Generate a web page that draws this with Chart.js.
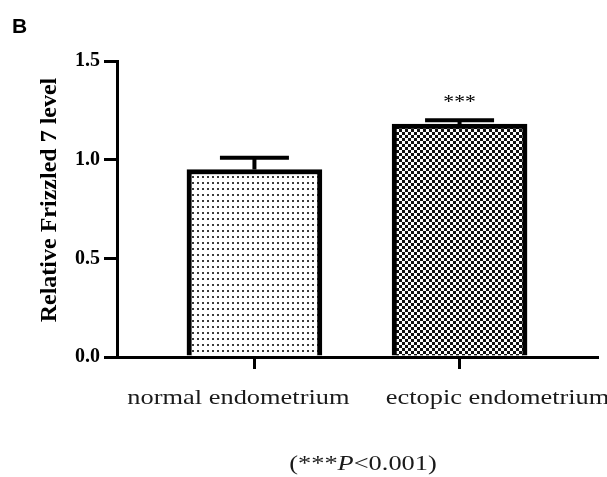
<!DOCTYPE html>
<html>
<head>
<meta charset="utf-8">
<script src="https://cdn.jsdelivr.net/npm/chart.js@4.4.1/dist/chart.umd.min.js"></script>
<style>
  html, body { margin: 0; padding: 0; background: #fff; }
  canvas { display: block; }
</style>
</head>
<body>
<canvas id="frizzled-bar" width="607" height="477"></canvas>
<script>
const groups = ["normal endometrium", "ectopic endometrium"];
const groupPositions = [1, 2];
const meanLevels = [0.95, 1.18];
const errorLevels = [0.06, 0.02];
const significance = ["", "***"];
const yTickValues = [0, 0.5, 1.0, 1.5];
const yAxisTitle = "Relative Frizzled 7 level";
const panelLetter = "B";

const SERIF = "'Liberation Serif', 'Times New Roman', serif";

function makePattern(draw, w, h) {
  const tile = document.createElement("canvas");
  tile.width = w;
  tile.height = h;
  const tctx = tile.getContext("2d");
  tctx.fillStyle = "#fff";
  tctx.fillRect(0, 0, w, h);
  draw(tctx);
  return document.getElementById("frizzled-bar").getContext("2d").createPattern(tile, "repeat");
}

// sparse dots for the normal group, dense checker for the ectopic group
const dotFill = makePattern((c) => {
  c.fillStyle = "#3a3a3a";
  c.fillRect(2, 2, 2, 2);
}, 5, 6);
const checkerFill = makePattern((c) => {
  c.fillStyle = "#111";
  c.fillRect(0, 0, 3, 3);
  c.fillRect(3, 3, 3, 3);
}, 6, 6);

// the source figure is stretched sideways a little
function stretchedText(ctx, text, x, y, font, sx) {
  ctx.save();
  ctx.font = font;
  ctx.translate(x, y);
  ctx.scale(sx, 1);
  ctx.fillText(text, 0, 0);
  ctx.restore();
}

const annotations = {
  id: "annotations",
  afterDraw(chart) {
    const { ctx, scales: { x, y } } = chart;
    ctx.save();
    ctx.fillStyle = "#000";
    ctx.strokeStyle = "#000";

    // error bars (upper half only) and significance stars
    groupPositions.forEach((pos, i) => {
      const px = x.getPixelForValue(pos);
      const top = y.getPixelForValue(meanLevels[i] + errorLevels[i]);
      const base = y.getPixelForValue(meanLevels[i]);
      ctx.lineWidth = 4;
      ctx.beginPath();
      ctx.moveTo(px, base);
      ctx.lineTo(px, top);
      ctx.moveTo(px - 34.5, top);
      ctx.lineTo(px + 34.5, top);
      ctx.stroke();
      if (significance[i]) {
        ctx.textAlign = "center";
        ctx.textBaseline = "alphabetic";
        stretchedText(ctx, significance[i], px, top - 12, `18px ${SERIF}`, 1.2);
      }
    });

    // category labels, slightly off the ticks as in the source
    const labelShift = [-16, 38];
    ctx.fillStyle = "#1a1a1a";
    ctx.textAlign = "center";
    ctx.textBaseline = "alphabetic";
    groups.forEach((g, i) => {
      stretchedText(ctx, g, x.getPixelForValue(groupPositions[i]) + labelShift[i], 404, `22px ${SERIF}`, 1.2);
    });

    // y axis title
    ctx.fillStyle = "#000";
    ctx.save();
    ctx.translate(50, (y.top + y.bottom) / 2 - 9);
    ctx.rotate(-Math.PI / 2);
    ctx.textAlign = "center";
    ctx.textBaseline = "middle";
    ctx.font = `bold 24px ${SERIF}`;
    ctx.fillText(yAxisTitle, 0, 0);
    ctx.restore();

    // panel letter
    ctx.textAlign = "left";
    ctx.textBaseline = "alphabetic";
    ctx.font = "bold 21px 'Liberation Sans', Arial, sans-serif";
    ctx.fillText(panelLetter, 12, 33);

    // footnote with italic P
    const fy = 470;
    const parts = [["(***", `22px ${SERIF}`], ["P", `italic 22px ${SERIF}`], ["<0.001)", `22px ${SERIF}`]];
    let total = 0;
    parts.forEach(([t, f]) => { ctx.font = f; total += ctx.measureText(t).width * 1.2; });
    let fx = 363 - total / 2;
    ctx.fillStyle = "#1a1a1a";
    parts.forEach(([t, f]) => {
      ctx.font = f;
      const w = ctx.measureText(t).width * 1.2;
      stretchedText(ctx, t, fx, fy, f, 1.2);
      fx += w;
    });
    ctx.restore();
  }
};

new Chart(document.getElementById("frizzled-bar"), {
  type: "bar",
  data: {
    datasets: [{
      data: groupPositions.map((pos, i) => ({ x: pos, y: meanLevels[i] })),
      backgroundColor: [dotFill, checkerFill],
      borderColor: "#000",
      borderWidth: 5,
      borderSkipped: "bottom",
      barThickness: 135
    }]
  },
  options: {
    responsive: false,
    animation: false,
    layout: { padding: { top: 61, right: 10, left: 0, bottom: 0 } },
    plugins: {
      legend: { display: false },
      tooltip: { enabled: false }
    },
    scales: {
      x: {
        type: "linear",
        min: 0.33,
        max: 2.67,
        offset: false,
        z: 1,
        afterBuildTicks: (scale) => {
          scale.ticks = groupPositions.map((v) => ({ value: v }));
        },
        afterFit: (scale) => { scale.height = 120; },
        border: { display: true, color: "#000", width: 3 },
        grid: { offset: false, drawOnChartArea: false, drawTicks: true, tickLength: 12, color: "#000", lineWidth: 3 },
        ticks: { display: false }
      },
      y: {
        min: 0,
        max: 1.5,
        afterBuildTicks: (scale) => {
          scale.ticks = yTickValues.map((v) => ({ value: v }));
        },
        afterFit: (scale) => { scale.width = 117; },
        border: { display: true, color: "#000", width: 3 },
        grid: { drawOnChartArea: false, drawTicks: true, tickLength: 13, color: "#000", lineWidth: 3 },
        ticks: {
          color: "#000",
          padding: 4,
          font: { family: SERIF, size: 20, weight: "bold" },
          callback: (v) => Number(v).toFixed(1)
        }
      }
    }
  },
  plugins: [annotations]
});
</script>
</body>
</html>
